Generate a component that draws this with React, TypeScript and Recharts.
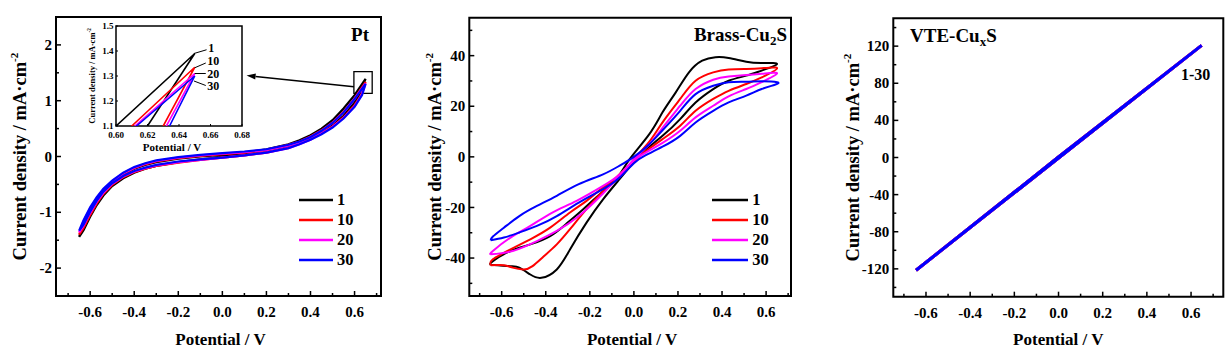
import React from 'react';
import { LineChart, Line, XAxis, YAxis, ReferenceArea, ReferenceLine, Legend, Label } from 'recharts';

const FONT = '"Liberation Serif", "Times New Roman", Times, serif';
const COLORS = ['#000000', '#ff0000', '#ff00ff', '#0000ff'];
const cycleNames = ['1', '10', '20', '30'];

// ---------- Pt (forward branch then backward branch) ----------
const ptCycle1: number[][] = [
  [-0.65, -1.44], [-0.63, -1.22], [-0.6, -0.98], [-0.57, -0.78], [-0.54, -0.62], [-0.5, -0.46], [-0.45, -0.32],
  [-0.4, -0.22], [-0.35, -0.15], [-0.3, -0.1], [-0.2, -0.04], [-0.1, 0.0], [0.0, 0.03], [0.1, 0.07], [0.2, 0.13],
  [0.3, 0.22], [0.35, 0.29], [0.4, 0.38], [0.45, 0.5], [0.5, 0.65], [0.55, 0.86], [0.6, 1.1], [0.65, 1.39],
  [0.62, 1.1], [0.6, 0.97], [0.55, 0.73], [0.5, 0.56], [0.45, 0.43], [0.4, 0.32], [0.35, 0.24], [0.3, 0.17],
  [0.2, 0.08], [0.1, 0.03], [0.0, -0.01], [-0.1, -0.05], [-0.2, -0.1], [-0.3, -0.17], [-0.35, -0.22], [-0.4, -0.29],
  [-0.45, -0.39], [-0.5, -0.53], [-0.54, -0.7], [-0.57, -0.87], [-0.6, -1.08], [-0.63, -1.32], [-0.65, -1.44],
];
const ptCycle10: number[][] = [
  [-0.65, -1.4], [-0.63, -1.19], [-0.6, -0.95], [-0.57, -0.76], [-0.54, -0.6], [-0.5, -0.45], [-0.45, -0.31],
  [-0.4, -0.21], [-0.35, -0.14], [-0.3, -0.09], [-0.2, -0.03], [-0.1, 0.01], [0.0, 0.04], [0.1, 0.07], [0.2, 0.12],
  [0.3, 0.21], [0.35, 0.27], [0.4, 0.36], [0.45, 0.47], [0.5, 0.61], [0.55, 0.8], [0.6, 1.04], [0.61, 1.1], [0.65, 1.335],
  [0.63, 1.1], [0.6, 0.92], [0.55, 0.7], [0.5, 0.54], [0.45, 0.42], [0.4, 0.31], [0.35, 0.23], [0.3, 0.16],
  [0.2, 0.07], [0.1, 0.02], [0.0, -0.02], [-0.1, -0.06], [-0.2, -0.11], [-0.3, -0.17], [-0.35, -0.22], [-0.4, -0.28],
  [-0.45, -0.37], [-0.5, -0.51], [-0.54, -0.67], [-0.57, -0.84], [-0.6, -1.05], [-0.63, -1.28], [-0.65, -1.4],
];
const ptCycle20: number[][] = [
  [-0.65, -1.36], [-0.63, -1.16], [-0.6, -0.93], [-0.57, -0.74], [-0.54, -0.59], [-0.5, -0.44], [-0.45, -0.3],
  [-0.4, -0.2], [-0.35, -0.13], [-0.3, -0.08], [-0.2, -0.02], [-0.1, 0.02], [0.0, 0.05], [0.1, 0.08], [0.2, 0.12],
  [0.3, 0.2], [0.35, 0.26], [0.4, 0.35], [0.45, 0.46], [0.5, 0.6], [0.55, 0.79], [0.6, 1.03], [0.612, 1.1], [0.65, 1.31],
  [0.632, 1.1], [0.6, 0.9], [0.55, 0.69], [0.5, 0.53], [0.45, 0.41], [0.4, 0.3], [0.35, 0.22], [0.3, 0.15],
  [0.2, 0.07], [0.1, 0.02], [0.0, -0.02], [-0.1, -0.06], [-0.2, -0.1], [-0.3, -0.16], [-0.35, -0.21], [-0.4, -0.27],
  [-0.45, -0.36], [-0.5, -0.49], [-0.54, -0.65], [-0.57, -0.81], [-0.6, -1.01], [-0.63, -1.24], [-0.65, -1.36],
];
const ptCycle30: number[][] = [
  [-0.65, -1.33], [-0.63, -1.14], [-0.6, -0.91], [-0.57, -0.73], [-0.54, -0.58], [-0.5, -0.43], [-0.45, -0.29],
  [-0.4, -0.19], [-0.35, -0.12], [-0.3, -0.07], [-0.2, -0.01], [-0.1, 0.03], [0.0, 0.06], [0.1, 0.09], [0.2, 0.13],
  [0.3, 0.21], [0.35, 0.27], [0.4, 0.35], [0.45, 0.46], [0.5, 0.6], [0.55, 0.79], [0.6, 1.03], [0.613, 1.1], [0.65, 1.3],
  [0.634, 1.1], [0.6, 0.89], [0.55, 0.68], [0.5, 0.52], [0.45, 0.4], [0.4, 0.3], [0.35, 0.22], [0.3, 0.15],
  [0.2, 0.07], [0.1, 0.02], [0.0, -0.02], [-0.1, -0.05], [-0.2, -0.09], [-0.3, -0.15], [-0.35, -0.2], [-0.4, -0.26],
  [-0.45, -0.35], [-0.5, -0.48], [-0.54, -0.63], [-0.57, -0.79], [-0.6, -0.99], [-0.63, -1.22], [-0.65, -1.33],
];
const ptCycles = [ptCycle1, ptCycle10, ptCycle20, ptCycle30];

// ---------- Brass-Cu2S ----------
const brassCycle1: number[][] = [
  [-0.65, -42.6], [-0.64, -41.2], [-0.56, -37.2], [-0.47, -34.6], [-0.38, -31.3], [-0.31, -26.7], [-0.23, -20.7],
  [-0.155, -14.8], [-0.08, -8.8], [-0.02, -1], [0.07, 9], [0.13, 17.6], [0.19, 25.5], [0.25, 33.4], [0.31, 38],
  [0.37, 39.4], [0.43, 39.1], [0.51, 37.6], [0.58, 37.1], [0.65, 36.7],
  [0.58, 34.1], [0.51, 32.1], [0.43, 30.1], [0.36, 26.8], [0.28, 21.5], [0.21, 14.9], [0.13, 8.3], [0.05, 2.5],
  [0.0, -2], [-0.065, -8.8], [-0.14, -16.8], [-0.215, -26], [-0.29, -36.6], [-0.35, -44.5], [-0.42, -47.8],
  [-0.47, -46.5], [-0.52, -43.8], [-0.56, -43.2], [-0.65, -42.6],
];
const brassCycle10: number[][] = [
  [-0.65, -42.8], [-0.64, -40.5], [-0.56, -36.6], [-0.47, -32.6], [-0.38, -28], [-0.29, -22], [-0.215, -17.4],
  [-0.14, -12.1], [-0.065, -7.5], [0.0, -1], [0.07, 6], [0.13, 13.6], [0.21, 22.9], [0.28, 30.1], [0.36, 33.4],
  [0.43, 34.5], [0.51, 34.7], [0.58, 35], [0.65, 35],
  [0.58, 31.4], [0.51, 28.8], [0.43, 26.1], [0.36, 22.9], [0.28, 18.2], [0.21, 12.3], [0.13, 7], [0.05, 2],
  [0.0, -1.5], [-0.065, -6.9], [-0.14, -13.5], [-0.215, -20.7], [-0.29, -28.6], [-0.35, -34.6], [-0.41, -39.4],
  [-0.46, -43.2], [-0.5, -44.5], [-0.55, -43.8], [-0.59, -42.8], [-0.65, -42.8],
];
const brassCycle20: number[][] = [
  [-0.65, -38.5], [-0.64, -37.2], [-0.56, -31.9], [-0.47, -27.3], [-0.37, -22], [-0.26, -17.4], [-0.14, -11.5],
  [-0.065, -7], [0.0, -1], [0.07, 5], [0.13, 11.5], [0.21, 20.2], [0.28, 26.8], [0.36, 30.5], [0.43, 31.8],
  [0.51, 32.4], [0.58, 32.8], [0.65, 33],
  [0.58, 29.5], [0.51, 26.8], [0.43, 23.9], [0.36, 20.2], [0.28, 15.6], [0.21, 10.3], [0.13, 5.5], [0.05, 1.5],
  [0.0, -1.5], [-0.065, -7.5], [-0.14, -14.5], [-0.25, -23.4], [-0.35, -29.3], [-0.44, -33.3], [-0.55, -37.2],
  [-0.65, -38.5],
];
const brassCycle30: number[][] = [
  [-0.65, -33], [-0.64, -31.5], [-0.59, -28], [-0.52, -23.4], [-0.44, -19.4], [-0.35, -15.4], [-0.25, -10.8],
  [-0.14, -6.9], [-0.065, -3.5], [0.0, 0], [0.07, 5], [0.13, 10.5], [0.21, 18.2], [0.28, 24.8], [0.36, 28.1],
  [0.43, 29.5], [0.51, 29.7], [0.58, 29.9], [0.65, 29.5],
  [0.64, 28.5], [0.58, 26.8], [0.51, 24.2], [0.43, 21.5], [0.36, 18.2], [0.28, 13.6], [0.21, 8.3], [0.13, 4],
  [0.05, 0.5], [0.0, -2.5], [-0.065, -8.2], [-0.14, -12.8], [-0.25, -18.1], [-0.35, -23.4], [-0.44, -27.3],
  [-0.52, -29.9], [-0.59, -31.9], [-0.65, -33],
];
const brassCycles = [brassCycle1, brassCycle10, brassCycle20, brassCycle30];

// ---------- VTE-CuxS ----------
const vteCycle1: number[][] = [[-0.645, -121.5], [0.0, 0.5], [0.648, 120.8], [0.0, -0.5], [-0.645, -121.5]];
const vteCycle10: number[][] = [[-0.645, -121.5], [0.0, 0.5], [0.648, 120.8], [0.0, -0.5], [-0.645, -121.5]];
const vteCycle20: number[][] = [[-0.645, -121.5], [0.0, 0.5], [0.648, 120.8], [0.0, -0.5], [-0.645, -121.5]];
const vteCycle30: number[][] = [[-0.645, -121.5], [0.0, 0.5], [0.648, 120.8], [0.0, -0.5], [-0.645, -121.5]];
const vteCycles = [vteCycle1, vteCycle10, vteCycle20, vteCycle30];

// ---------- ticks ----------
const xMajor = [-0.6, -0.4, -0.2, 0, 0.2, 0.4, 0.6];
const xMinor = [-0.7, -0.5, -0.3, -0.1, 0.1, 0.3, 0.5, 0.7];
const ptYMajor = [-2, -1, 0, 1, 2];
const ptYMinor = [-1.5, -0.5, 0.5, 1.5];
const brassYMajor = [-40, -20, 0, 20, 40];
const brassYMinor = [-50, -30, -10, 10, 30, 50];
const vteYMajor = [-120, -80, -40, 0, 40, 80, 120];
const vteYMinor = [-140, -100, -60, -20, 20, 60, 100, 140];
const insetXMajor = [0.6, 0.62, 0.64, 0.66, 0.68];
const insetYMajor = [1.1, 1.2, 1.3, 1.4, 1.5];

// inset annotations: leader line (from curve tip to label) and label anchor, in inset data units
const insetNotes = [
  { label: '1', from: [0.6495, 1.39], to: [0.6575, 1.405], text: [0.6585, 1.411] },
  { label: '10', from: [0.65, 1.333], to: [0.657, 1.352], text: [0.658, 1.361] },
  { label: '20', from: [0.65, 1.31], to: [0.657, 1.31], text: [0.658, 1.308] },
  { label: '30', from: [0.6495, 1.28], to: [0.657, 1.262], text: [0.658, 1.259] },
];

const toPts = (arr: number[][]) => arr.map(([x, y]) => ({ x, y }));
const sortNum = (a: number[]) => [...a].sort((p, q) => p - q);

type TickOpts = {
  side: 'bottom' | 'left';
  majors: number[];
  fmt: (v: number) => string;
  fs: number;
  major: number;
  minor: number;
  gap: number;
  sw?: number;
};

function makeTick(o: TickOpts) {
  return (props: any) => {
    const { x, y, payload } = props;
    const v = payload.value as number;
    const isMajor = o.majors.some((m) => Math.abs(m - v) < 1e-6);
    const len = isMajor ? o.major : o.minor;
    const sw = o.sw ?? 1.5;
    if (o.side === 'bottom') {
      return (
        <g>
          {len > 0 && <line x1={x} x2={x} y1={y} y2={y - len} stroke="#000" strokeWidth={sw} />}
          {isMajor && (
            <text x={x} y={y + o.gap} textAnchor="middle" fontFamily={FONT} fontWeight="bold" fontSize={o.fs} fill="#000">
              {o.fmt(v)}
            </text>
          )}
        </g>
      );
    }
    return (
      <g>
        {len > 0 && <line x1={x} x2={x + len} y1={y} y2={y} stroke="#000" strokeWidth={sw} />}
        {isMajor && (
          <text x={x - o.gap} y={y + o.fs * 0.34} textAnchor="end" fontFamily={FONT} fontWeight="bold" fontSize={o.fs} fill="#000">
            {o.fmt(v)}
          </text>
        )}
      </g>
    );
  };
}

const fmt1 = (v: number) => v.toFixed(1);
const fmt2 = (v: number) => v.toFixed(2);
const fmtInt = (v: number) => String(Math.round(v));

const mainXTick = makeTick({ side: 'bottom', majors: xMajor, fmt: fmt1, fs: 15, major: 5, minor: 3, gap: 21 });
const ptYTick = makeTick({ side: 'left', majors: ptYMajor, fmt: fmtInt, fs: 15, major: 5, minor: 3, gap: 4 });
const brassYTick = makeTick({ side: 'left', majors: brassYMajor, fmt: fmtInt, fs: 15, major: 5, minor: 3, gap: 4 });
const vteYTick = makeTick({ side: 'left', majors: vteYMajor, fmt: fmtInt, fs: 15, major: 5, minor: 3, gap: 4 });
const insetXTick = makeTick({ side: 'bottom', majors: insetXMajor, fmt: fmt2, fs: 9, major: 2, minor: 0, gap: 11.5, sw: 1 });
const insetYTick = makeTick({ side: 'left', majors: insetYMajor, fmt: fmt1, fs: 9, major: 2, minor: 0, gap: 2.5, sw: 1 });

const xTitle = (dy: number, fs: number, dx = 2) => (p: any) => {
  const vb = p.viewBox;
  return (
    <text x={vb.x + vb.width / 2 + dx} y={vb.y + dy} textAnchor="middle" fontFamily={FONT} fontWeight="bold" fontSize={fs} fill="#000">
      Potential / V
    </text>
  );
};

const yTitle = (off: number, fs: number) => (p: any) => {
  const vb = p.viewBox;
  const x = vb.x + vb.width + off;
  const y = vb.y + vb.height / 2;
  return (
    <text x={x} y={y} transform={`rotate(-90, ${x}, ${y})`} textAnchor="middle" fontFamily={FONT} fontWeight="bold" fontSize={fs} fill="#000">
      Current density / mA·cm
      <tspan dy={-fs * 0.45} fontSize={fs * 0.6}>-2</tspan>
    </text>
  );
};

const legendContent = (lineLen: number) => (props: any) => (
  <div style={{ fontFamily: FONT, fontWeight: 'bold', fontSize: 16.5, color: '#000' }}>
    {(props.payload || []).map((p: any) => (
      <div key={p.value} style={{ display: 'flex', alignItems: 'center', height: 20 }}>
        <svg width={lineLen} height={20} style={{ display: 'block' }}>
          <line x1={0} x2={lineLen} y1={10} y2={10} stroke={p.color} strokeWidth={2.5} />
        </svg>
        <span style={{ marginLeft: 4, lineHeight: '20px' }}>{p.value}</span>
      </div>
    ))}
  </div>
);

const arrowShape = (p: any) => {
  const { x1, y1, x2, y2 } = p;
  const ang = Math.atan2(y2 - y1, x2 - x1);
  const L = 9;
  const W = 3;
  const bx = x2 - L * Math.cos(ang);
  const by = y2 - L * Math.sin(ang);
  const px = -Math.sin(ang) * W;
  const py = Math.cos(ang) * W;
  return (
    <g>
      <line x1={x1} y1={y1} x2={bx} y2={by} stroke="#000" strokeWidth={1.3} />
      <polygon points={`${x2},${y2} ${bx + px},${by + py} ${bx - px},${by - py}`} fill="#000" />
    </g>
  );
};

const noteLine = (p: any) => (
  <line x1={p.x1} y1={p.y1} x2={p.x2} y2={p.y2} stroke="#000" strokeWidth={1} />
);

const noteText = (label: string) => (p: any) => (
  <text x={p.cx} y={p.cy + 4} fontFamily={FONT} fontWeight="bold" fontSize={12} fill="#000">
    {label}
  </text>
);

const ptTitle = (p: any) => {
  const vb = p.viewBox;
  return (
    <text x={vb.x + vb.width - 12} y={vb.y + 24} textAnchor="end" fontFamily={FONT} fontWeight="bold" fontSize={19} fill="#000">
      Pt
    </text>
  );
};
const brassTitle = (p: any) => {
  const vb = p.viewBox;
  return (
    <text x={vb.x + vb.width - 4} y={vb.y + 23.3} textAnchor="end" fontFamily={FONT} fontWeight="bold" fontSize={19} fill="#000">
      Brass-Cu
      <tspan dy={4} fontSize={13}>2</tspan>
      <tspan dy={-4}>S</tspan>
    </text>
  );
};
const vteTitle = (p: any) => {
  const vb = p.viewBox;
  return (
    <g>
      <text x={vb.x + 16.7} y={vb.y + 23.4} textAnchor="start" fontFamily={FONT} fontWeight="bold" fontSize={19} fill="#000">
        VTE-Cu
        <tspan dy={4} fontSize={13}>x</tspan>
        <tspan dy={-4}>S</tspan>
      </text>
      <text x={vb.x + vb.width - 13} y={vb.y + 61.7} textAnchor="end" fontFamily={FONT} fontWeight="bold" fontSize={16} fill="#000">
        1-30
      </text>
    </g>
  );
};

const PT_X: [number, number] = [-0.755, 0.72];
const PT_Y: [number, number] = [-2.5, 2.5];
const BR_X: [number, number] = [-0.747, 0.713];
const BR_Y: [number, number] = [-55, 55];
const VT_X: [number, number] = [-0.748, 0.746];
const VT_Y: [number, number] = [-150, 150];
const IN_X: [number, number] = [0.6, 0.68];
const IN_Y: [number, number] = [1.1, 1.5];

function PtPanel() {
  return (
    <div style={{ position: 'absolute', left: 0, top: 0, width: 410, height: 356 }}>
      <LineChart width={410} height={356} margin={{ top: 17, right: 29, bottom: 20, left: 16 }}>
        <XAxis dataKey="x" type="number" domain={PT_X} allowDataOverflow ticks={sortNum([...xMajor, ...xMinor])} interval={0}
          tickSize={0} tickMargin={0} axisLine={false} tickLine={false} tick={mainXTick} height={40}>
          <Label content={xTitle(49, 17)} />
        </XAxis>
        <YAxis type="number" domain={PT_Y} allowDataOverflow ticks={sortNum([...ptYMajor, ...ptYMinor])} interval={0}
          tickSize={0} tickMargin={0} axisLine={false} tickLine={false} tick={ptYTick} width={40}>
          <Label content={yTitle(-30, 18.5)} />
        </YAxis>
        {ptCycles.map((c, i) => (
          <Line key={cycleNames[i]} data={toPts(c)} dataKey="y" name={cycleNames[i]} stroke={COLORS[i]} strokeWidth={2.2}
            dot={false} activeDot={false} type="linear" isAnimationActive={false} />
        ))}
        <ReferenceArea x1={PT_X[0]} x2={PT_X[1]} y1={PT_Y[0]} y2={PT_Y[1]} fill="none" fillOpacity={0} stroke="#000" strokeWidth={2}>
          <Label content={ptTitle} />
        </ReferenceArea>
        <ReferenceArea x1={0.597} x2={0.68} y1={1.13} y2={1.52} fill="none" fillOpacity={0} stroke="#000" strokeWidth={1.3} />
        <ReferenceLine segment={[{ x: 0.597, y: 1.25 }, { x: 0.11, y: 1.45 }]} shape={arrowShape} />
        <Legend layout="vertical" align="center" verticalAlign="middle" wrapperStyle={{ left: 299, top: 190, width: 80, height: 80 }}
          content={legendContent(34)} />
      </LineChart>
    </div>
  );
}

function PtInset() {
  return (
    <div style={{ position: 'absolute', left: 80, top: 15, width: 175, height: 140 }}>
      <LineChart width={175} height={140} margin={{ top: 11, right: 13, bottom: 9, left: 16 }}>
        <XAxis dataKey="x" type="number" domain={IN_X} allowDataOverflow ticks={insetXMajor} interval={0}
          tickSize={0} tickMargin={0} axisLine={false} tickLine={false} tick={insetXTick} height={20}>
          <Label content={xTitle(25, 11, -7)} />
        </XAxis>
        <YAxis type="number" domain={IN_Y} allowDataOverflow ticks={insetYMajor} interval={0}
          tickSize={0} tickMargin={0} axisLine={false} tickLine={false} tick={insetYTick} width={20}>
          <Label content={yTitle(-21, 8.5)} />
        </YAxis>
        {ptCycles.map((c, i) => (
          <Line key={cycleNames[i]} data={toPts(c)} dataKey="y" name={cycleNames[i]} stroke={COLORS[i]} strokeWidth={1.6}
            dot={false} activeDot={false} type="linear" isAnimationActive={false} />
        ))}
        <ReferenceArea x1={IN_X[0]} x2={IN_X[1]} y1={IN_Y[0]} y2={IN_Y[1]} fill="none" fillOpacity={0} stroke="#000" strokeWidth={1.5} />
        {insetNotes.map((n) => (
          <ReferenceLine key={`l${n.label}`} segment={[{ x: n.from[0], y: n.from[1] }, { x: n.to[0], y: n.to[1] }]} shape={noteLine} />
        ))}
        {insetNotes.map((n) => (
          <ReferenceLine key={`t${n.label}`} segment={[{ x: n.text[0], y: n.text[1] }, { x: n.text[0], y: n.text[1] }]}
            shape={(p: any) => noteText(n.label)({ cx: p.x1, cy: p.y1 })} />
        ))}
      </LineChart>
    </div>
  );
}

function BrassPanel() {
  return (
    <div style={{ position: 'absolute', left: 410, top: 0, width: 410, height: 356 }}>
      <LineChart width={410} height={356} margin={{ top: 17.7, right: 29, bottom: 20, left: 19.3 }}>
        <XAxis dataKey="x" type="number" domain={BR_X} allowDataOverflow ticks={sortNum([...xMajor, ...xMinor])} interval={0}
          tickSize={0} tickMargin={0} axisLine={false} tickLine={false} tick={mainXTick} height={40}>
          <Label content={xTitle(48.5, 17)} />
        </XAxis>
        <YAxis type="number" domain={BR_Y} allowDataOverflow ticks={sortNum([...brassYMajor, ...brassYMinor])} interval={0}
          tickSize={0} tickMargin={0} axisLine={false} tickLine={false} tick={brassYTick} width={40}>
          <Label content={yTitle(-28.3, 18.5)} />
        </YAxis>
        {brassCycles.map((c, i) => (
          <Line key={cycleNames[i]} data={toPts(c)} dataKey="y" name={cycleNames[i]} stroke={COLORS[i]} strokeWidth={2}
            dot={false} activeDot={false} type="natural" isAnimationActive={false} />
        ))}
        <ReferenceArea x1={BR_X[0]} x2={BR_X[1]} y1={BR_Y[0]} y2={BR_Y[1]} fill="none" fillOpacity={0} stroke="#000" strokeWidth={2}>
          <Label content={brassTitle} />
        </ReferenceArea>
        <Legend layout="vertical" align="center" verticalAlign="middle" wrapperStyle={{ left: 301.7, top: 190, width: 80, height: 80 }}
          content={legendContent(36.6)} />
      </LineChart>
    </div>
  );
}

function VtePanel() {
  return (
    <div style={{ position: 'absolute', left: 820, top: 0, width: 412, height: 356 }}>
      <LineChart width={412} height={356} margin={{ top: 18.3, right: 8.7, bottom: 19.3, left: 33.3 }}>
        <XAxis dataKey="x" type="number" domain={VT_X} allowDataOverflow ticks={sortNum([...xMajor, ...xMinor])} interval={0}
          tickSize={0} tickMargin={0} axisLine={false} tickLine={false} tick={mainXTick} height={40}>
          <Label content={xTitle(48.5, 17, 0)} />
        </XAxis>
        <YAxis type="number" domain={VT_Y} allowDataOverflow ticks={sortNum([...vteYMajor, ...vteYMinor])} interval={0}
          tickSize={0} tickMargin={0} axisLine={false} tickLine={false} tick={vteYTick} width={40}>
          <Label content={yTitle(-34, 18.5)} />
        </YAxis>
        {vteCycles.map((c, i) => (
          <Line key={cycleNames[i]} data={toPts(c)} dataKey="y" name={cycleNames[i]} stroke={COLORS[i]} strokeWidth={3}
            dot={false} activeDot={false} type="linear" isAnimationActive={false} />
        ))}
        <ReferenceArea x1={VT_X[0]} x2={VT_X[1]} y1={VT_Y[0]} y2={VT_Y[1]} fill="none" fillOpacity={0} stroke="#000" strokeWidth={2}>
          <Label content={vteTitle} />
        </ReferenceArea>
      </LineChart>
    </div>
  );
}

export default function App() {
  return (
    <div style={{ position: 'absolute', left: 0, top: 0, width: 1232, height: 356, background: '#fff', overflow: 'hidden' }}>
      <PtPanel />
      <PtInset />
      <BrassPanel />
      <VtePanel />
    </div>
  );
}
